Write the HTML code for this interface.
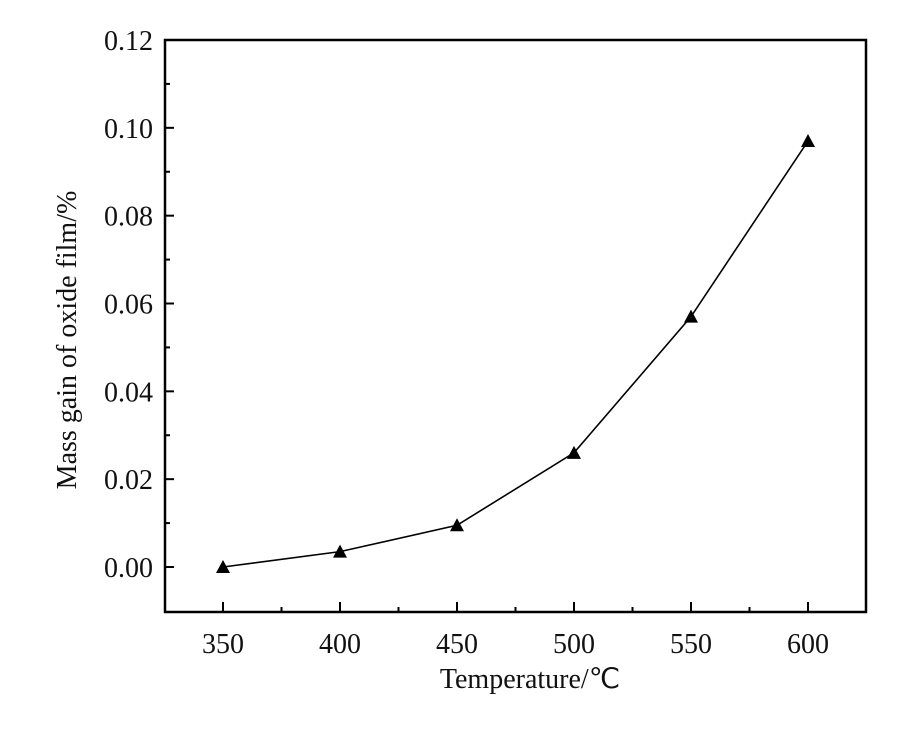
<!DOCTYPE html>
<html><head><meta charset="utf-8"><style>
body{margin:0;background:#fff;}
svg text{font-family:"Liberation Serif",serif;fill:#111;}
</style></head><body>
<svg width="897" height="727">
<g id="g"></g>
</svg>
<script>
const temps=[350,400,450,500,550,600];
const gains=[0.000,0.0035,0.0095,0.026,0.057,0.097];
const yTicks=[0,0.02,0.04,0.06,0.08,0.10,0.12];
const yLabels=["0.00","0.02","0.04","0.06","0.08","0.10","0.12"];
const xTicks=[350,400,450,500,550,600];
const L=165,R=866,T=40,B=612;
const x=v=>223+(v-350)*(808-223)/250;
const y=v=>567-(v)*(567-40)/0.12;
const g=document.getElementById('g');
const NS='http://www.w3.org/2000/svg';
function el(t,a,p){const e=document.createElementNS(NS,t);for(const k in a)e.setAttribute(k,a[k]);(p||g).appendChild(e);return e;}
const box=el('rect',{x:L,y:T,width:R-L,height:B-T,fill:'none',stroke:'#000','stroke-width':2.5});


yTicks.forEach((v,i)=>{
 const t=el('line',{x1:L,x2:L+9,y1:y(v),y2:y(v),stroke:'#000','stroke-width':2});
 
 
 if(i<yTicks.length-1){const m=el('line',{x1:L,x2:L+5,y1:y(v+0.01),y2:y(v+0.01),stroke:'#000','stroke-width':2});
 
 }
 const tx=el('text',{x:L-12,y:y(v)+10,'text-anchor':'end','font-size':28});tx.textContent=yLabels[i];
 
 
});
xTicks.forEach((v,i)=>{
 const t=el('line',{x1:x(v),x2:x(v),y1:B,y2:B-10,stroke:'#000','stroke-width':2});
 
 
 if(i<xTicks.length-1){const m=el('line',{x1:x(v+25),x2:x(v+25),y1:B,y2:B-5,stroke:'#000','stroke-width':2});
 
 }
 const tx=el('text',{x:x(v),y:B+41,'text-anchor':'middle','font-size':28});tx.textContent=v;
 
 
});
const line=el('polyline',{points:temps.map((t,i)=>x(t)+','+y(gains[i])).join(' '),fill:'none',stroke:'#000','stroke-width':1.6});


temps.forEach((t,i)=>{
 const cx=x(t),cy=y(gains[i]);
 const p=el('polygon',{points:`${cx},${cy-7} ${cx-7},${cy+6} ${cx+7},${cy+6}`,fill:'#000'});
 
 
});
const xt=el('text',{x:530,y:688,'text-anchor':'middle','font-size':28});xt.textContent='Temperature/℃';


const yt=el('text',{x:0,y:0,'text-anchor':'middle','font-size':28,transform:'translate(76,340) rotate(-90)'});yt.textContent='Mass gain of oxide film/%';


</script>
</body></html>
